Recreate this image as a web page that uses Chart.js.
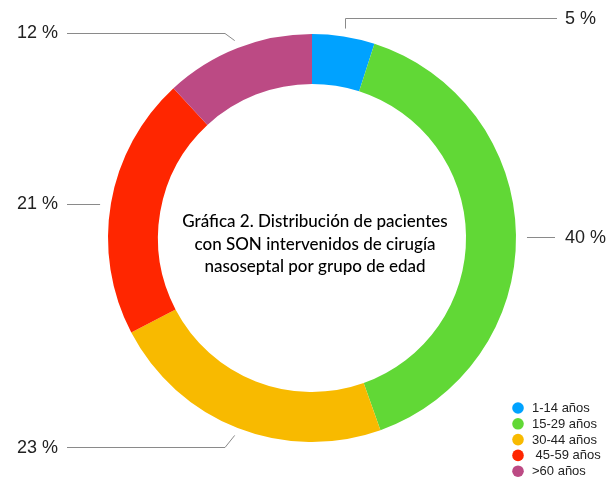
<!DOCTYPE html>
<html>
<head>
<meta charset="utf-8">
<script src="https://cdn.jsdelivr.net/npm/chart.js@4/dist/chart.umd.min.js"></script>
<style>
  html, body { margin: 0; padding: 0; background: #ffffff; }
  #wrap { width: 608px; height: 478px; }
</style>
</head>
<body>
<div id="wrap"><canvas id="c" width="608" height="478"></canvas></div>
<script>
// Age groups and share of patients (%)
const categories = ['1-14 años', '15-29 años', '30-44 años', ' 45-59 años', '>60 años'];
const percentages = [5, 40, 23, 21, 12];
const sliceColors = ['#00A2FF', '#61D836', '#F8BA00', '#FF2600', '#BC4A84'];
const centerTitle = [
  'Gráfica 2. Distribución de pacientes',
  'con SON intervenidos de cirugía',
  'nasoseptal por grupo de edad'
];

// Where each percentage callout sits (text position and leader line path)
const calloutLayout = [
  { tx: 565, ty: 19,  align: 'left',  elbow: 'up',    lineY: 18,  endX: 557 },
  { tx: 565, ty: 238, align: 'left',  elbow: 'flat',  lineY: 237, endX: 555 },
  { tx: 58,  ty: 448, align: 'right', elbow: [225, 447], lineY: 447, endX: 67 },
  { tx: 58,  ty: 204, align: 'right', elbow: 'flat',  lineY: 204, endX: 67 },
  { tx: 58,  ty: 33,  align: 'right', elbow: [225, 33], lineY: 33, endX: 67 }
];

const calloutPlugin = {
  id: 'callouts',
  afterDatasetsDraw(chart) {
    const ctx = chart.ctx;
    const meta = chart.getDatasetMeta(0);
    ctx.save();
    ctx.strokeStyle = '#8a8a8a';
    ctx.lineWidth = 1;
    ctx.fillStyle = '#222222';
    ctx.font = '18px "Liberation Sans", Arial, sans-serif';
    ctx.textBaseline = 'middle';
    meta.data.forEach((arc, i) => {
      const p = arc.getProps(['x', 'y', 'startAngle', 'endAngle', 'outerRadius'], true);
      const mid = (p.startAngle + p.endAngle) / 2;
      const r = p.outerRadius + 8;
      const ax = p.x + Math.cos(mid) * r;
      const ay = p.y + Math.sin(mid) * r;
      const L = calloutLayout[i];
      ctx.beginPath();
      if (L.elbow === 'up') {
        ctx.moveTo(Math.round(ax) + 0.5, ay);
        ctx.lineTo(Math.round(ax) + 0.5, L.lineY + 0.5);
        ctx.lineTo(L.endX, L.lineY + 0.5);
      } else if (L.elbow === 'flat') {
        const sx = ax + (L.align === 'left' ? 3 : -3);
        ctx.moveTo(sx, L.lineY + 0.5);
        ctx.lineTo(L.endX, L.lineY + 0.5);
      } else {
        ctx.moveTo(ax, ay);
        ctx.lineTo(L.elbow[0], L.elbow[1] + 0.5);
        ctx.lineTo(L.endX, L.lineY + 0.5);
      }
      ctx.stroke();
      ctx.textAlign = L.align;
      ctx.fillText(percentages[i] + ' %', L.tx, L.ty);
    });
    ctx.restore();
  }
};

const centerTextPlugin = {
  id: 'centerText',
  afterDatasetsDraw(chart) {
    const ctx = chart.ctx;
    const arc = chart.getDatasetMeta(0).data[0];
    const cx = arc.x, cy = arc.y;
    ctx.save();
    ctx.fillStyle = '#000000';
    ctx.font = '500 17px Lato, "Noto Sans", sans-serif';
    ctx.textAlign = 'center';
    ctx.textBaseline = 'middle';
    centerTitle.forEach((line, k) => {
      ctx.fillText(line, cx + 3, cy - 16 + k * 22.5);
    });
    ctx.restore();
  }
};

const cornerLegendPlugin = {
  id: 'cornerLegend',
  afterDraw(chart) {
    const ctx = chart.ctx;
    ctx.save();
    ctx.font = '13px "Liberation Sans", Arial, sans-serif';
    ctx.textBaseline = 'middle';
    ctx.textAlign = 'left';
    chart.data.labels.forEach((lab, i) => {
      const y = 408 + i * 15.8;
      ctx.fillStyle = chart.data.datasets[0].backgroundColor[i];
      ctx.beginPath();
      ctx.arc(518, y, 5.8, 0, Math.PI * 2);
      ctx.fill();
      ctx.fillStyle = '#222222';
      ctx.fillText(lab, 532, y + 0.5);
    });
    ctx.restore();
  }
};

new Chart(document.getElementById('c'), {
  type: 'doughnut',
  data: {
    labels: categories,
    datasets: [{
      data: percentages,
      backgroundColor: sliceColors,
      borderWidth: 0,
      hoverOffset: 0
    }]
  },
  options: {
    responsive: false,
    animation: false,
    cutout: '75.5%',
    layout: { padding: { top: 34, bottom: 36, left: 108, right: 92 } },
    plugins: {
      legend: { display: false },
      tooltip: { enabled: false }
    }
  },
  plugins: [calloutPlugin, centerTextPlugin, cornerLegendPlugin]
});
</script>
</body>
</html>
